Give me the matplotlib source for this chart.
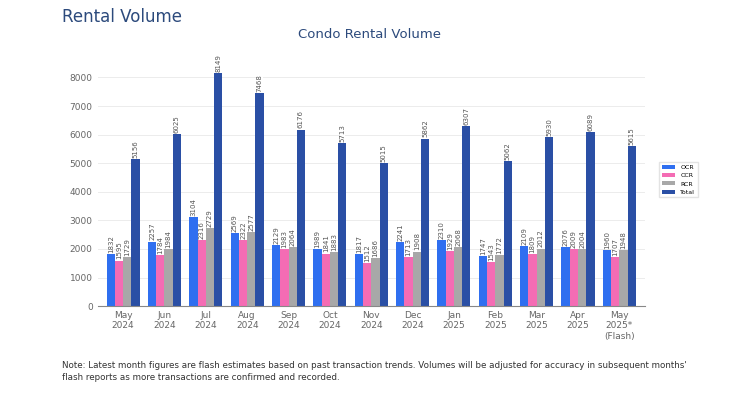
import numpy as np
import matplotlib.pyplot as plt

months = ["May\n2024", "Jun\n2024", "Jul\n2024", "Aug\n2024", "Sep\n2024", "Oct\n2024",
          "Nov\n2024", "Dec\n2024", "Jan\n2025", "Feb\n2025", "Mar\n2025", "Apr\n2025",
          "May\n2025*\n(Flash)"]
ocr = [1832, 2257, 3104, 2569, 2129, 1989, 1817, 2241, 2310, 1747, 2109, 2076, 1960]
ccr = [1595, 1784, 2316, 2322, 1983, 1841, 1512, 1713, 1929, 1543, 1809, 2009, 1707]
rcr = [1729, 1984, 2729, 2577, 2064, 1883, 1686, 1908, 2068, 1772, 2012, 2004, 1948]
total = [5156, 6025, 8149, 7468, 6176, 5713, 5015, 5862, 6307, 5062, 5930, 6089, 5615]

series = [("OCR", ocr, "#2f6ff0"), ("CCR", ccr, "#f46cb4"),
          ("RCR", rcr, "#a8a8a8"), ("Total", total, "#2a4fa5")]

fig = plt.figure(figsize=(7.5, 3.95), dpi=100)
ax = fig.add_axes([0.13, 0.225, 0.73, 0.615])

x = np.arange(len(months))
w = 0.2
for i, (name, vals, color) in enumerate(series):
    pos = x + (i - 1.5) * w
    ax.bar(pos, vals, w, color=color, label=name)
    for p, v in zip(pos, vals):
        ax.text(p, v + 40, str(v), rotation=90, ha="center", va="bottom",
                fontsize=5, color="#555555",
                bbox=dict(facecolor="white", edgecolor="none", pad=0.05))

ax.set_ylim(0, 8500)
ax.set_xlim(-0.62, len(months) - 0.38)
ax.set_yticks(range(0, 8001, 1000))
ax.set_xticks(x)
ax.set_xticklabels(months)
ax.tick_params(axis="both", length=0, labelsize=6.5, labelcolor="#666666")
ax.grid(axis="y", color="#ececec", linewidth=0.7)
ax.set_axisbelow(True)
for s in ["top", "right", "left"]:
    ax.spines[s].set_visible(False)
ax.spines["bottom"].set_color("#888888")

ax.legend(loc="center left", bbox_to_anchor=(1.02, 0.52), fontsize=4.5,
          frameon=True, edgecolor="#dddddd", handlelength=2.2, handleheight=0.6,
          labelspacing=0.5, fancybox=False)

fig.text(0.083, 0.957, "Rental Volume", fontsize=12, color="#2c4a7c", va="center")
fig.text(0.493, 0.912, "Condo Rental Volume", fontsize=9.5, color="#2c4a7c",
         ha="center", va="center")
fig.text(0.083, 0.06,
         "Note: Latest month figures are flash estimates based on past transaction trends. "
         "Volumes will be adjusted for accuracy in subsequent months'\n"
         "flash reports as more transactions are confirmed and recorded.",
         fontsize=6.3, color="#333333", va="center", linespacing=1.5)

fig.savefig("out.png", dpi=100)
